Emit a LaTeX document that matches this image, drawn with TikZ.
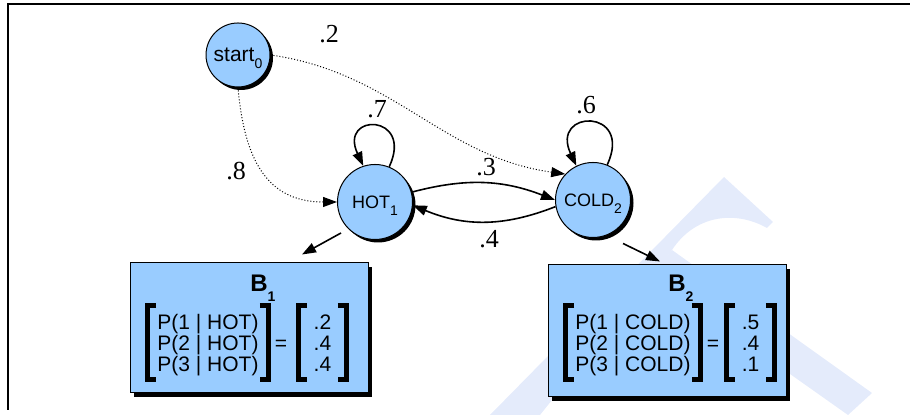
\documentclass[tikz,border=0pt]{standalone}
\usepackage{fontspec}
\setmainfont{Liberation Serif}
\setsansfont{Liberation Sans}
\usetikzlibrary{arrows.meta,shadows,positioning,calc}

\definecolor{stateblue}{RGB}{153,204,255}
\definecolor{wmark}{RGB}{228,235,251}

\newcommand{\lowidx}[2][3.5pt]{\raisebox{-#1}[0pt][0pt]{\fontsize{7}{7}\selectfont #2}}
\newcommand{\lbrk}[1]{\draw[brk] ([shift={(-0.5pt,4.5pt)}]#1.north west) -- ++(-4.5pt,0) |- ([shift={(-0.5pt,-1.5pt)}]#1.south west);}
\newcommand{\rbrk}[1]{\draw[brk] ([shift={(0.5pt,4.5pt)}]#1.north east) -- ++(4.5pt,0) |- ([shift={(0.5pt,-1.5pt)}]#1.south east);}

\begin{document}
\begin{tikzpicture}[x=0.5pt, y=0.5pt, >={Triangle[length=7pt,width=5pt]},
	circstate/.style={circle, draw, line width=0.5pt, fill=stateblue, minimum size=37.5pt, inner sep=0pt, font=\sffamily\fontsize{9}{10}\selectfont, drop shadow={shadow xshift=1.5pt, shadow yshift=-1.5pt, fill=black, opacity=1}},
	bbox/.style={rectangle, draw, line width=0.5pt, fill=stateblue, minimum width=119pt, inner sep=0pt, drop shadow={shadow xshift=2pt, shadow yshift=-2pt, fill=black, opacity=1}},
	btitle/.style={inner sep=0pt, font=\sffamily\bfseries\fontsize{12}{13}\selectfont},
	rows/.style={inner sep=0pt, align=left, font=\sffamily\fontsize{10.5}{10.5}\selectfont},
	vals/.style={rows, align=center, minimum width=14pt},
	brk/.style={line width=2.5pt},
	lbl/.style={inner sep=0pt, font=\fontsize{13}{13}\selectfont},
	trans/.style={line width=0.8pt},
	dottrans/.style={line width=0.5pt, dash pattern=on 0.5pt off 1pt},
	rimline/.style={line width=1pt}
]
	\useasboundingbox (0,0) rectangle (910,415);
	
	\fill[wmark] (490,0) -- (724,238) -- (773,193) -- (767,187) .. controls (735,205) and (695,200) .. (672,165) -- (540,0) -- cycle;
	\fill[wmark] (672,165) -- (872,22) -- (848,0) -- (650,140) -- cycle;
	
	\draw[rimline] (7.5,5) -- (7.5,410.5) -- (910,410.5);
	
	\node[bbox, minimum height=65pt] (b1) at (249,87) {};
	\node[bbox, minimum height=66pt] (b2) at (667,84) {};
	
	\node[btitle, anchor=base west] (b1t) at (250,123) {B\lowidx[4.8pt]{1}};
	\node[btitle, anchor=base west] (b2t) at (668,123) {B\lowidx[4.8pt]{2}};
	
	\node[rows, anchor=west] (b1p) at (157,69.5) {P(1 | HOT)\\P(2 | HOT)\\P(3 | HOT)};
	\node[rows] (b1eq) at (281,70) {=};
	\node[vals] (b1v) at (322.5,69.5) {\vphantom{(}.2\\.4\\.4\vphantom{(}};
	\node[rows, anchor=west] (b2p) at (575,69.5) {P(1 | COLD)\\P(2 | COLD)\\P(3 | COLD)};
	\node[rows] (b2eq) at (713,70) {=};
	\node[vals] (b2v) at (750.5,69.5) {\vphantom{(}.5\\.4\\.1\vphantom{(}};
	
	\lbrk{b1p} \rbrk{b1p} \lbrk{b1v} \rbrk{b1v}
	\lbrk{b2p} \rbrk{b2p} \lbrk{b2v} \rbrk{b2v}
	
	\node[circstate, minimum size=32pt, font=\sffamily\fontsize{10.5}{12}\selectfont] (start) at (238,360) {start\lowidx{0}};
	\node[circstate] (hot) at (375,213) {HOT\lowidx{1}};
	\node[circstate] (cold) at (593,215) {COLD\lowidx{2}};
	
	\draw[dottrans, ->] (start.south) to[out=-85, in=180, looseness=1.2] (hot.west);
	\draw[dottrans, ->] (start.east) to[out=-8, in=172] (cold.137);
	\draw[trans, ->] (hot.68) to[out=65, in=115, looseness=5.8] (hot.108);
	\draw[trans, ->] (cold.68) to[out=65, in=115, looseness=5.2] (cold.116);
	\draw[trans, ->] (hot.15) to[bend left=18] (cold.west);
	\draw[trans, ->] (cold.190) to[bend left=22] (hot.-5);
	\draw[trans, ->] ([shift={(-34,7)}]hot.south) -- ([shift={(53,8)}]b1.north);
	\draw[trans, ->] ([shift={(30,-5.5)}]cold.south) -- ([shift={(-7,3)}]b2.north);
	
	\node[lbl] (lsc) at (329,381) {.2};
	\node[lbl] (lsh) at (236,244) {.8};
	\node[lbl] (lhh) at (377,306) {.7};
	\node[lbl] (lcc) at (586,310) {.6};
	\node[lbl] (lhc) at (486,248) {.3};
	\node[lbl] (lch) at (489,176) {.4};
\end{tikzpicture}
\end{document}
